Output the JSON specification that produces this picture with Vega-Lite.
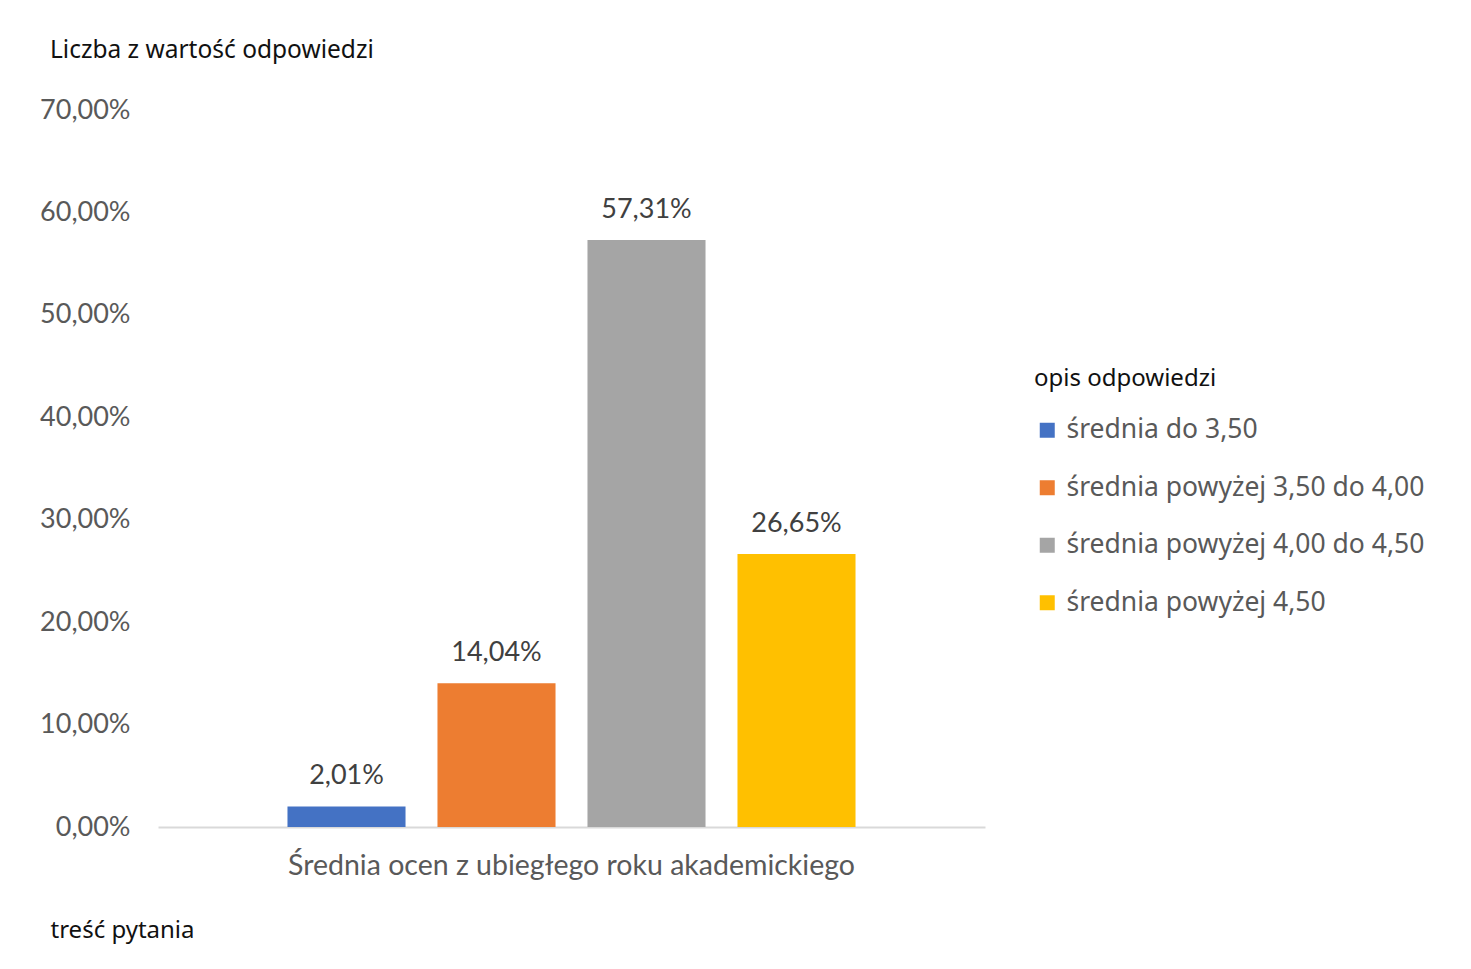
{
  "$schema": "https://vega.github.io/schema/vega-lite/v6.json",
  "autosize": {"type": "none"},
  "width": 827,
  "height": 717,
  "padding": {"left": 158, "top": 110, "right": 486, "bottom": 142},
  "background": "white",
  "config": {
    "view": {"stroke": null},
    "locale": {"number": {"decimal": ",", "thousands": " ", "grouping": [3], "currency": ["", " zł"]}}
  },
  "title": {
    "text": "Liczba z wartość odpowiedzi",
    "anchor": "start",
    "frame": "group",
    "orient": "top",
    "dx": -108,
    "offset": 21,
    "font": "Noto Sans",
    "fontSize": 24.5,
    "fontWeight": "normal",
    "color": "#111111",
    "baseline": "middle",
    "limit": 0
  },
  "data": {
    "values": [
      {"pytanie": "Średnia ocen z ubiegłego roku akademickiego", "opis": "średnia do 3,50", "wartosc": 0.0201},
      {"pytanie": "Średnia ocen z ubiegłego roku akademickiego", "opis": "średnia powyżej 3,50 do 4,00", "wartosc": 0.1404},
      {"pytanie": "Średnia ocen z ubiegłego roku akademickiego", "opis": "średnia powyżej 4,00 do 4,50", "wartosc": 0.5731},
      {"pytanie": "Średnia ocen z ubiegłego roku akademickiego", "opis": "średnia powyżej 4,50", "wartosc": 0.2665}
    ]
  },
  "encoding": {
    "x": {
      "field": "pytanie",
      "type": "nominal",
      "scale": {"paddingInner": 0, "paddingOuter": 0.189},
      "axis": {
        "title": "treść pytania",
        "titleX": -108,
        "titleY": 103,
        "titleAlign": "left",
        "titleBaseline": "middle",
        "titleFont": "Noto Sans",
        "titleFontSize": 24,
        "titleFontWeight": "normal",
        "titleColor": "#111111",
        "titleLimit": 0,
        "labelAngle": 0,
        "labelFont": "Lato",
        "labelFontSize": 28.5,
        "labelColor": "#595959",
        "labelBaseline": "middle",
        "labelPadding": 38,
        "labelLimit": 0,
        "ticks": false,
        "domain": true,
        "domainColor": "#d9d9d9",
        "domainWidth": 2,
        "grid": false
      }
    },
    "xOffset": {
      "field": "opis",
      "type": "nominal",
      "scale": {"paddingInner": 0.213, "paddingOuter": 0.107}
    },
    "y": {
      "field": "wartosc",
      "type": "quantitative",
      "scale": {"domain": [0, 0.7], "nice": false},
      "axis": {
        "title": null,
        "values": [0, 0.1, 0.2, 0.3, 0.4, 0.5, 0.6, 0.7],
        "format": ".2%",
        "labelFont": "Lato",
        "labelFontSize": 27,
        "labelColor": "#595959",
        "labelPadding": 28,
        "ticks": false,
        "domain": false,
        "grid": false
      }
    }
  },
  "layer": [
    {
      "mark": {"type": "bar"},
      "encoding": {
        "color": {
          "field": "opis",
          "type": "nominal",
          "scale": {
            "domain": ["średnia do 3,50", "średnia powyżej 3,50 do 4,00", "średnia powyżej 4,00 do 4,50", "średnia powyżej 4,50"],
            "range": ["#4472C4", "#ED7D31", "#A5A5A5", "#FFC000"]
          },
          "legend": {
            "title": "opis odpowiedzi",
            "orient": "none",
            "legendX": 876,
            "legendY": 257,
            "titleFont": "Noto Sans",
            "titleFontSize": 24,
            "titleFontWeight": "normal",
            "titleColor": "#111111",
            "titlePadding": 26,
            "titleLimit": 0,
            "labelFont": "Noto Sans",
            "labelFontSize": 26.5,
            "labelColor": "#595959",
            "labelOffset": 6,
            "labelLimit": 0,
            "symbolType": "square",
            "symbolSize": 225,
            "symbolStrokeWidth": 0,
            "rowPadding": 30.5,
            "padding": 0
          }
        }
      }
    },
    {
      "mark": {"type": "text", "baseline": "middle", "dy": -30, "font": "Lato", "fontSize": 27, "color": "#404040"},
      "encoding": {
        "text": {"field": "wartosc", "type": "quantitative", "format": ".2%"}
      }
    }
  ]
}
